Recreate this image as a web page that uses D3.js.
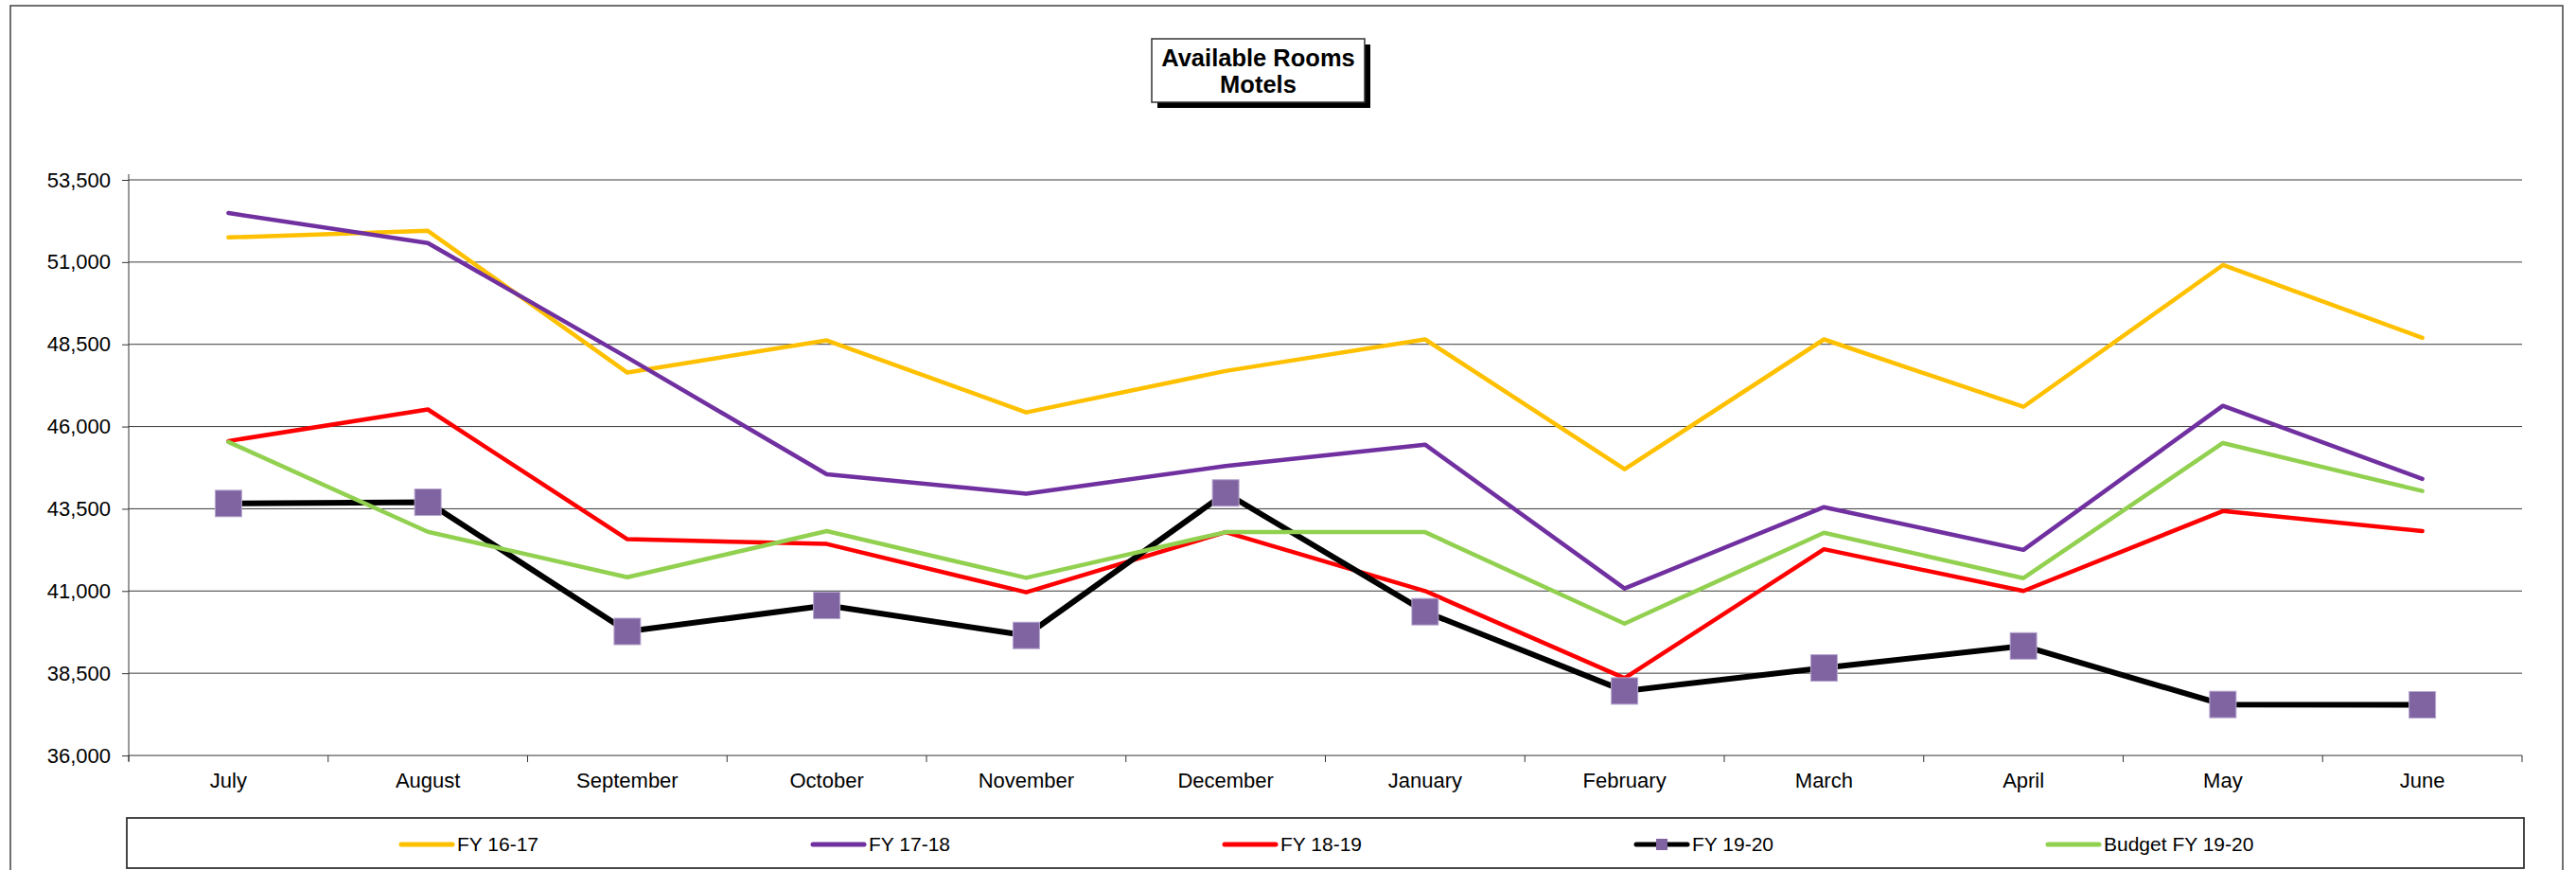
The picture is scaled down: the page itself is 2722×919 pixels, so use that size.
<!DOCTYPE html>
<html>
<head>
<meta charset="utf-8">
<script src="https://cdnjs.cloudflare.com/ajax/libs/d3/7.8.5/d3.min.js"></script>
<style>
  html, body { margin: 0; padding: 0; background: #fff; }
  svg { display: block; font-family: "Liberation Sans", Arial, sans-serif; }
</style>
</head>
<body>
<svg id="chart" width="2722" height="919"></svg>
<script>
// Monthly available motel rooms by fiscal year
const months = ["July", "August", "September", "October", "November", "December",
                "January", "February", "March", "April", "May", "June"];

const fy1617 = [51750, 51950, 47640, 48620, 46430, 47690, 48650, 44700, 48650, 46600, 50910, 48700];
const fy1718 = [52490, 51580, 48100, 44550, 43960, 44800, 45450, 41075, 43550, 42250, 46630, 44410];
const fy1819 = [45560, 46520, 42575, 42430, 40960, 42790, 41000, 38350, 42270, 41000, 43430, 42820];
const fy1920 = [43660, 43700, 39770, 40560, 39650, 43980, 40370, 37960, 38660, 39330, 37550, 37540];
const budget1920 = [45530, 42800, 41420, 42820, 41400, 42790, 42790, 40010, 42770, 41390, 45500, 44040];

const yTicks = [36000, 38500, 41000, 43500, 46000, 48500, 51000, 53500];
const titleLines = ["Available Rooms", "Motels"];

const seriesNames = ["FY 16-17", "FY 17-18", "FY 18-19", "FY 19-20", "Budget FY 19-20"];
const seriesValues = [fy1617, fy1718, fy1819, fy1920, budget1920];
const seriesColors = ["#FFC000", "#7030A0", "#FF0000", "#000000", "#92D050"];

const svg = d3.select("#chart");

// outer chart frame
svg.append("rect")
  .attr("x", 11).attr("y", 6)
  .attr("width", 2697).attr("height", 940)
  .attr("fill", "#fff").attr("stroke", "#404040").attr("stroke-width", 1.5);

const plot = { left: 136, right: 2665, top: 190, bottom: 798 };

const x = d3.scaleBand().domain(months).range([plot.left, plot.right]).padding(0);
const y = d3.scaleLinear().domain([36000, 53500]).range([plot.bottom, plot.top]);
const cx = m => x(m) + x.bandwidth() / 2;

// horizontal gridlines
svg.append("g")
  .selectAll("line")
  .data(yTicks.filter(v => v !== 36000))
  .join("line")
  .attr("x1", plot.left).attr("x2", plot.right)
  .attr("y1", d => y(d)).attr("y2", d => y(d))
  .attr("stroke", "#3a3a3a").attr("stroke-width", 1);

// y axis
const yAxis = svg.append("g")
  .attr("transform", `translate(${plot.left},0)`)
  .call(d3.axisLeft(y).tickValues(yTicks).tickFormat(d3.format(",")).tickSize(7).tickPadding(12));
yAxis.select(".domain").attr("stroke", "#333").attr("d", `M0,${plot.top - 6}V${plot.bottom + 6}`);
yAxis.selectAll(".tick line").attr("stroke", "#333");
yAxis.selectAll("text").attr("font-size", 22).attr("fill", "#000")
  .attr("font-family", "'Liberation Sans', Arial, sans-serif");

// x axis: labels centred in each band, tick marks at band edges
const xAxis = svg.append("g")
  .attr("transform", `translate(0,${plot.bottom})`)
  .call(d3.axisBottom(x).tickSize(0).tickPadding(18));
xAxis.select(".domain").attr("stroke", "#333").attr("d", `M${plot.left},0H${plot.right}`);
xAxis.selectAll("text").attr("font-size", 22).attr("fill", "#000")
  .attr("font-family", "'Liberation Sans', Arial, sans-serif");
svg.append("g")
  .selectAll("line")
  .data(months.map(m => x(m)).concat([plot.right]))
  .join("line")
  .attr("x1", d => d).attr("x2", d => d)
  .attr("y1", plot.bottom).attr("y2", plot.bottom + 7)
  .attr("stroke", "#333");

// series lines
const line = d3.line().x((d, i) => cx(months[i])).y(d => y(d));
seriesValues.forEach((vals, si) => {
  svg.append("path")
    .datum(vals)
    .attr("d", line)
    .attr("fill", "none")
    .attr("stroke", seriesColors[si])
    .attr("stroke-width", si === 3 ? 6 : 4.5)
    .attr("stroke-linejoin", "round")
    .attr("stroke-linecap", "round");
  if (si === 3) {
    svg.append("g")
      .selectAll("rect")
      .data(vals)
      .join("rect")
      .attr("x", (d, i) => cx(months[i]) - 14)
      .attr("y", d => y(d) - 14)
      .attr("width", 28).attr("height", 28)
      .attr("fill", "#8064A2")
      .attr("stroke", "#B7A8CF").attr("stroke-width", 1);
  }
});

// title box with drop shadow
const tb = { x: 1217, y: 41, w: 225, h: 67 };
svg.append("rect").attr("x", tb.x + 6).attr("y", tb.y + 6).attr("width", tb.w).attr("height", tb.h).attr("fill", "#000");
svg.append("rect").attr("x", tb.x).attr("y", tb.y).attr("width", tb.w).attr("height", tb.h)
  .attr("fill", "#fff").attr("stroke", "#333").attr("stroke-width", 1.5);
svg.append("g")
  .selectAll("text")
  .data(titleLines)
  .join("text")
  .attr("x", tb.x + tb.w / 2)
  .attr("y", (d, i) => 70 + i * 28)
  .attr("text-anchor", "middle")
  .attr("font-size", 25.5)
  .attr("font-weight", "bold")
  .attr("fill", "#000")
  .text(d => d);

// legend
const lg = { x: 134, y: 864, w: 2533, h: 53 };
svg.append("rect").attr("x", lg.x).attr("y", lg.y).attr("width", lg.w).attr("height", lg.h)
  .attr("fill", "#fff").attr("stroke", "#333").attr("stroke-width", 1.8);
const legendX = d3.scalePoint().domain(seriesNames).range([424, 2164]);
const ly = lg.y + 28;
const items = svg.append("g").selectAll("g").data(seriesNames).join("g")
  .attr("transform", d => `translate(${legendX(d)},${ly})`);
items.append("line")
  .attr("x1", 0).attr("x2", 54).attr("y1", 0).attr("y2", 0)
  .attr("stroke", (d, i) => seriesColors[i])
  .attr("stroke-width", 5)
  .attr("stroke-linecap", "round");
items.filter((d, i) => i === 3).append("rect")
  .attr("x", 21).attr("y", -6).attr("width", 12).attr("height", 12)
  .attr("fill", "#8064A2");
items.append("text")
  .attr("x", 59).attr("y", 0).attr("dy", "0.35em")
  .attr("font-size", 21)
  .attr("fill", "#000")
  .text(d => d);
</script>
</body>
</html>
